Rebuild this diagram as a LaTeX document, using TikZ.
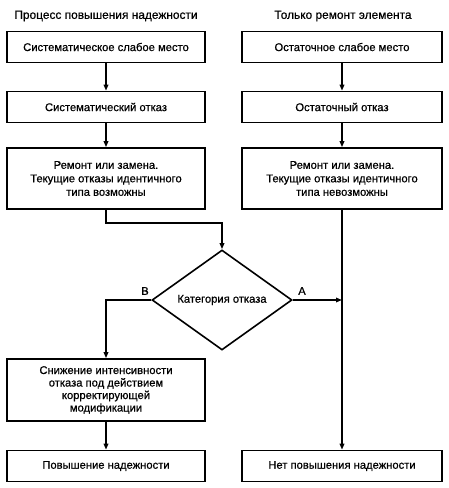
\documentclass[tikz,border=0pt]{standalone}
\usepackage{fontspec}
\setmainfont{Liberation Sans}[FakeBold=0.6]
\usetikzlibrary{shapes.geometric,arrows.meta}
\begin{document}
\begin{tikzpicture}[x=1pt,y=-1pt,
  box/.style={draw,line width=1.6pt,minimum height=31pt,align=center,font=\fontsize{11.2}{13.5}\selectfont,inner sep=2pt},
  title/.style={font=\fontsize{11.9}{13}\selectfont},
  lab/.style={font=\fontsize{11.2}{13}\selectfont},
  flow/.style={line width=1.6pt,-{Triangle[length=6pt,width=4.5pt]}}]
\useasboundingbox (0,0) rectangle (448,488);
\node[title] (tl) at (106,16) {Процесс повышения надежности};
\node[title] (tr) at (343,16) {Только ремонт элемента};
\node[box,minimum width=198pt] (l1) at (106,47) {Систематическое слабое место};
\node[box,minimum width=198pt] (l2) at (106,107) {Систематический отказ};
\node[box,minimum width=198pt,minimum height=61pt] (l3) at (106,178.5) {Ремонт или замена.\\Текущие отказы идентичного\\типа возможны};
\node[box,minimum width=200pt] (r1) at (342,47) {Остаточное слабое место};
\node[box,minimum width=200pt] (r2) at (342,107) {Остаточный отказ};
\node[box,minimum width=200pt,minimum height=61pt] (r3) at (342,178.5) {Ремонт или замена.\\Текущие отказы идентичного\\типа невозможны};
\node[draw,diamond,line width=1.6pt,minimum width=140pt,minimum height=100pt,inner sep=0pt,lab] (d) at (222,300) {Категория отказа};
\node[box,minimum width=198pt,minimum height=62pt,font=\fontsize{11.2}{12.5}\selectfont] (l4) at (106,390) {Снижение интенсивности\\отказа под действием\\корректирующей\\модификации};
\node[box,minimum width=198pt] (l5) at (106,466) {Повышение надежности};
\node[box,minimum width=200pt] (r5) at (342,466) {Нет повышения надежности};
\coordinate (bend1) at (106,223);
\coordinate (bend2) at (222,223);
\coordinate (bend3) at (106,300);
\coordinate (join) at (342,300);
\draw[flow] (l1) -- (l2);
\draw[flow] (l2) -- (l3);
\draw[flow] (r1) -- (r2);
\draw[flow] (r2) -- (r3);
\draw[flow] (l3.south) -- (bend1) -- (bend2) -- (d.north);
\draw[flow] (d.west) -- (bend3) -- (l4.north);
\draw[flow] (l4) -- (l5);
\draw[flow] (r3) -- (r5);
\draw[flow] (d.east) -- (join);
\node[lab] (lb) at (145,291) {В};
\node[lab] (la) at (302,291) {А};
\end{tikzpicture}
\end{document}
